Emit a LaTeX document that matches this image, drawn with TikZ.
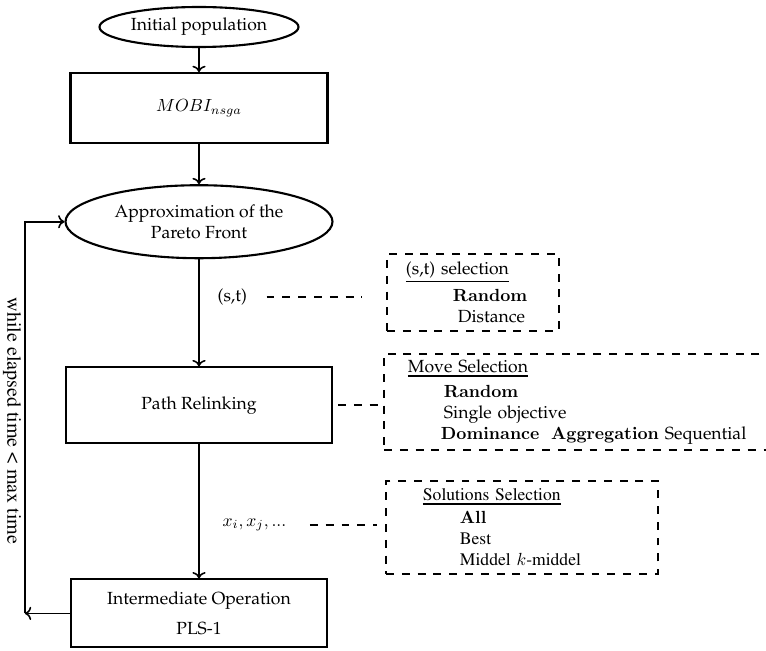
\documentclass[tikz,border=0pt]{standalone}
\usepackage[T1]{fontenc}
\renewcommand{\rmdefault}{ppl}
\usetikzlibrary{shapes, arrows.meta, positioning}

% Times for a few labels, heavier underline for box headers
\newcommand{\tmsfont}{\fontfamily{ptm}\selectfont}
\newcommand{\hdr}[1]{\leavevmode\vtop{\hbox{#1}\kern1.2pt\hrule height 0.9pt}}

\begin{document}
\begin{tikzpicture}[auto, thick,
        block/.style={draw, line width=1.2pt, minimum width=5.2cm, minimum height=1.42cm, align=center},
        oval/.style={draw, ellipse, line width=1.2pt, inner sep=0pt, align=center},
        choice/.style={draw, line width=1.1pt, dash pattern=on 4.5pt off 4.5pt, align=left, anchor=north west},
        arrow/.style={->, line width=0.9pt},
        link/.style={line width=1.1pt, dash pattern=on 4.5pt off 4.5pt}]

        \useasboundingbox (0,0) rectangle (15.32,-13.02);

        % Main flow
        \node [oval, minimum width=3.98cm, minimum height=0.8cm] (init) at (3.98,-0.54) {Initial population};
        \node [block, below=0.48cm of init, minimum width=5.14cm, minimum height=1.4cm] (mobi) {$MOBI_{nsga}$};
        \node [oval, below=0.8cm of mobi, minimum width=5.34cm, minimum height=1.46cm] (approx) {Approximation of the\\Pareto Front};
        \node [block, below=2.14cm of approx, minimum width=5.32cm, minimum height=1.52cm] (relink) {Path Relinking};
        \node [block, below=2.68cm of relink, minimum width=5.12cm, minimum height=1.36cm] (inter) {Intermediate Operation\\[5pt]PLS-1};

        % Option boxes
        \node [choice, text width=2.68cm, inner xsep=0.38cm, minimum height=1.54cm] (stsel) at (7.72,-5.06)
            {\hdr{(s,t) selection}\\[3pt]\hspace*{0.94cm}$\mathbf{Random}$\\\hspace*{1.04cm}Distance};
        \node [choice, text width=8cm, inner xsep=0.48cm, minimum height=1.86cm] (movesel) at (7.66,-7.06)
            {\hdr{Move Selection}\\[2pt]\hspace*{0.72cm}$\mathbf{Random}$\\\hspace*{0.72cm}Single objective\\\hspace*{0.66cm}$\mathbf{Dominance\ \ Aggregation}$ Sequential};
        \node [choice, font=\tmsfont, text width=3.96cm, inner xsep=0.74cm, minimum height=1.86cm] (solsel) at (7.70,-9.60)
            {\hdr{Solutions Selection}\\[1pt]\hspace*{0.74cm}$\mathbf{All}$\\\hspace*{0.74cm}Best\\\hspace*{0.74cm}Middel $k$-middel};

        % Arrows
        \draw [arrow] (init) -- (mobi);
        \draw [arrow] (mobi) -- (approx);
        \draw [arrow] (approx) -- node[pos=0.35, right=0.24cm] (st) {(s,t)} (relink);
        \draw [arrow] (relink) -- node[pos=0.6, right=0.34cm] (xs) {$x_i, x_j, ...$} (inter);

        % Loop back
        \coordinate [left=0.9cm of inter.west] (loop);
        \draw [arrow] (inter) -- (loop);
        \draw [arrow] (loop) |- (approx);
        \node [rotate=-90, font=\tmsfont\fontsize{11.4}{13}\selectfont] (cond) at (0.24,-8.42) {while elapsed time < max time};

        % Dashed links to the option boxes
        \draw [link, shorten <=0.26cm, shorten >=0.48cm] (st) -- (st -| stsel.west);
        \draw [link, shorten <=0.1cm] (relink) -- (relink -| movesel.west);
        \draw [link, shorten <=0.34cm, shorten >=0.16cm] (xs) -- (xs -| solsel.west);
\end{tikzpicture}
\end{document}
